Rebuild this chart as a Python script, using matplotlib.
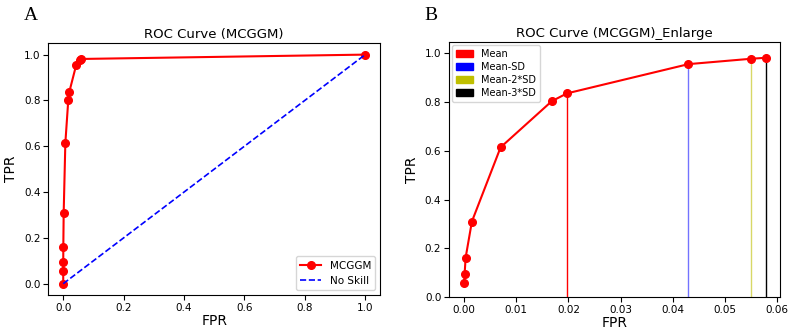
import matplotlib.pyplot as plt
from matplotlib.patches import Patch

# ROC points (FPR, TPR)
fpr = [0.0, 0.0, 0.0001, 0.0003, 0.0015, 0.0070, 0.0168, 0.0197, 0.0430, 0.0550, 0.0578, 1.0]
tpr = [0.0, 0.057, 0.094, 0.162, 0.310, 0.614, 0.803, 0.835, 0.955, 0.977, 0.981, 1.0]

# No skill line
ns_x = [0, 1]
ns_y = [0, 1]

# thresholds shown in the enlarged plot
thr_names = ['Mean', 'Mean-SD', 'Mean-2*SD', 'Mean-3*SD']
thr_fpr = [0.0197, 0.0430, 0.0550, 0.0578]
thr_tpr = [0.835, 0.955, 0.977, 0.981]
thr_colors = ['r', 'b', 'y', 'k']
thr_alpha = [1.0, 0.55, 0.6, 1.0]

fig = plt.figure(figsize=(7.89, 3.32), dpi=100)

#Panel A
ax1 = fig.add_axes([0.061, 0.111, 0.421, 0.759])
ax1.plot(fpr, tpr, 'r-o', markersize=5.5, linewidth=1.5, label='MCGGM')
ax1.plot(ns_x, ns_y, 'b--', linewidth=1.2, label='No Skill')
ax1.set_xlim(-0.05, 1.05)
ax1.set_ylim(-0.05, 1.05)
ax1.set_title('ROC Curve (MCGGM)', fontsize=9.5, pad=4)
ax1.set_xlabel('FPR', fontsize=10, labelpad=1)
ax1.set_ylabel('TPR', fontsize=10, labelpad=4)
ax1.tick_params(labelsize=7.5, pad=2)
ax1.legend(loc='lower right', fontsize=7.5)
fig.text(0.03, 0.94, 'A', fontsize=14, family='Liberation Serif')

#Panel B
ax2 = fig.add_axes([0.569, 0.105, 0.42, 0.768])
for i in range(len(thr_fpr)):
    ax2.vlines(thr_fpr[i], 0, thr_tpr[i], color=thr_colors[i], alpha=thr_alpha[i], linewidth=1)
ax2.plot(fpr[1:-1], tpr[1:-1], 'r-o', markersize=5.5, linewidth=1.5)
ax2.set_xlim(-0.0029, 0.0606)
ax2.set_ylim(0, 1.045)
ax2.set_title('ROC Curve (MCGGM)_Enlarge', fontsize=9.5, pad=4)
ax2.set_xlabel('FPR', fontsize=10, labelpad=1)
ax2.set_ylabel('TPR', fontsize=10, labelpad=4)
ax2.tick_params(labelsize=7.5, pad=2)
handles = [Patch(color=c) for c in thr_colors]
ax2.legend(handles, thr_names, loc='upper left', fontsize=7, borderaxespad=0.3,
           labelspacing=0.3, handlelength=1.8)
fig.text(0.538, 0.94, 'B', fontsize=14, family='Liberation Serif')

plt.savefig('out.png')
